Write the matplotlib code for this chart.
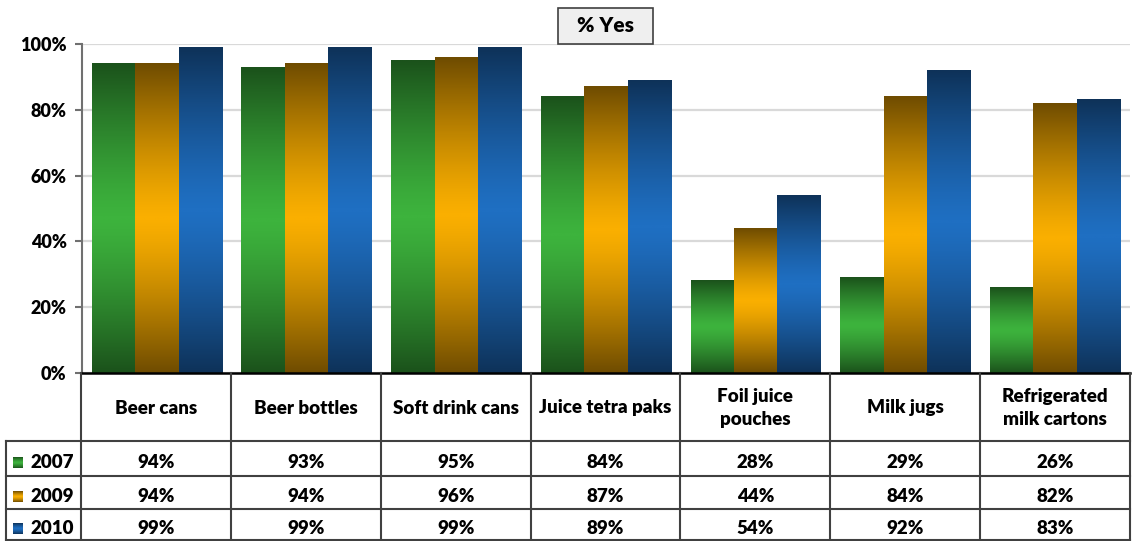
import numpy as np
import matplotlib.pyplot as plt
from matplotlib.colors import LinearSegmentedColormap
from matplotlib.patches import Rectangle

# data
categories = ['Beer cans', 'Beer bottles', 'Soft drink cans', 'Juice tetra paks',
              'Foil juice\npouches', 'Milk jugs', 'Refrigerated\nmilk cartons']
years = ['2007', '2009', '2010']
v2007 = [94, 93, 95, 84, 28, 29, 26]
v2009 = [94, 94, 96, 87, 44, 84, 82]
v2010 = [99, 99, 99, 89, 54, 92, 83]
series = [v2007, v2009, v2010]

# gradient colours (edge, middle) per series
grad = [('#1B521B', '#3DB33D'), ('#6F4C00', '#FAAF00'), ('#0E3259', '#1F6FC2')]

plt.rcParams['font.family'] = ['Lato', 'DejaVu Sans']
WT = 'heavy'
plt.rcParams['font.weight'] = WT
FS = 13.5

W, H = 1135, 541
fig = plt.figure(figsize=(W / 100, H / 100), dpi=100)
fig.patch.set_facecolor('white')


def px(x0, y0, x1, y1):
    # pixel box (top-left origin) -> figure fraction rect
    return [x0 / W, 1 - y1 / H, (x1 - x0) / W, (y1 - y0) / H]


ax = fig.add_axes(px(82, 44, 1130, 373))
n = len(categories)
x = np.arange(n)
bw = 0.29

grad_img = np.abs(np.linspace(-1, 1, 256))[:, None] ** 1.3
for i, vals in enumerate(series):
    cmap = LinearSegmentedColormap.from_list('g%d' % i, [grad[i][1], grad[i][0]])
    bars = ax.bar(x + (i - 1) * bw, vals, bw, color='none', edgecolor='none', zorder=3)
    for b in bars:
        bx, by = b.get_x(), b.get_y()
        ax.imshow(grad_img, cmap=cmap, aspect='auto', zorder=3,
                  extent=(bx, bx + b.get_width(), by, by + b.get_height()),
                  origin='lower', vmin=0, vmax=1)
ax.set_xlim(-0.5, n - 0.5)
ax.set_ylim(0, 100)

ax.set_yticks([0, 20, 40, 60, 80, 100])
ax.set_yticklabels(['%d%%' % t for t in [0, 20, 40, 60, 80, 100]], fontsize=13, fontweight=WT)
ax.yaxis.grid(True, color='#D9D9D9', linewidth=1.6)
ax.set_axisbelow(True)
ax.tick_params(axis='y', length=5, width=1.5, color='#707070', pad=6)
ax.set_xticks([])
for s in ['top', 'right']:
    ax.spines[s].set_visible(False)
ax.spines['left'].set_color('#707070')
ax.spines['left'].set_linewidth(1.5)
ax.spines['bottom'].set_color('black')
ax.spines['bottom'].set_linewidth(1.8)
ax.spines['bottom'].set_zorder(5)

# title box
fig.patches.append(Rectangle((558 / W, 1 - 44 / H), 95 / W, 36 / H, transform=fig.transFigure,
                             facecolor='#EFEFEF', edgecolor='#404040', linewidth=1.2, zorder=5))
fig.text(605.5 / W, 1 - 26 / H, '% Yes', ha='center', va='center', fontsize=15, fontweight=WT,
         zorder=6)

# data table
tx = fig.add_axes(px(6, 373, 1130, 541))
tx.axis('off')
lc = '#404040'
rows = [0, 68, 103, 136, 167]
for k in range(n + 1):
    tx.plot([k - 0.5, k - 0.5], [0, 167], color=lc, lw=1.5, clip_on=False)
tx.plot([-1.0, -1.0], [68, 167], color=lc, lw=1.5, clip_on=False)
for r in rows[1:]:
    tx.plot([-1.0, n - 0.5], [r, r], color=lc, lw=1.5, clip_on=False)

for j, c in enumerate(categories):
    tx.text(j, 35, c, ha='center', va='center', fontsize=FS, fontweight=WT,
            linespacing=1.4)

for i, vals in enumerate(series):
    yc = (rows[i + 1] + rows[i + 2]) / 2
    for j, v in enumerate(vals):
        tx.text(j, yc + 4, '%d%%' % v, ha='center', va='center', fontsize=FS, fontweight=WT)
    # legend key
    cmap = LinearSegmentedColormap.from_list('k%d' % i, [grad[i][1], grad[i][0]])
    tx.imshow(grad_img, cmap=cmap, aspect='auto', origin='lower', vmin=0, vmax=1,
              extent=(-0.953, -0.887, yc + 10, yc - 1))
    tx.text(-0.835, yc + 4, years[i], ha='left', va='center', fontsize=FS, fontweight=WT)
tx.set_xlim(-1.0, n - 0.5)
tx.set_ylim(168, 0)

fig.savefig('out.png', dpi=100, facecolor='white')
